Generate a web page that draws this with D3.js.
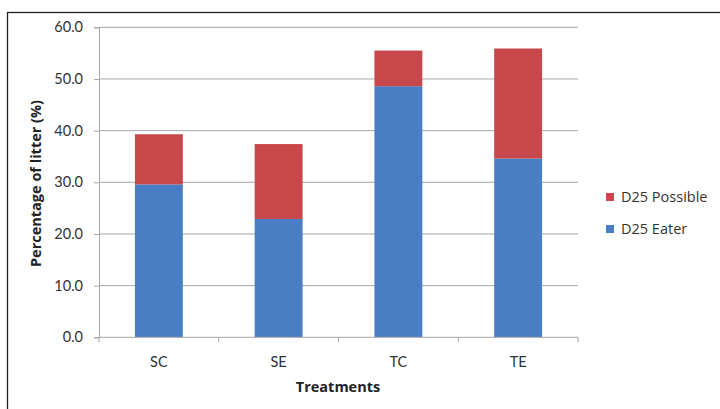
<!DOCTYPE html>
<html>
<head>
<meta charset="utf-8">
<script src="https://cdn.jsdelivr.net/npm/d3@7"></script>
<style>
  html, body { margin: 0; padding: 0; background: #fff; }
  svg { display: block; font-family: "Open Sans", Lato, "Liberation Sans", sans-serif; }
</style>
</head>
<body>
<svg id="chart" width="720" height="409"></svg>
<script>
// Treatments and litter percentages by series
const categories = ["SC", "SE", "TC", "TE"];
const eaterValues = [29.6, 22.9, 48.6, 34.6];
const possibleValues = [9.7, 14.5, 6.9, 21.3];
const seriesNames = ["D25 Eater", "D25 Possible"];
const yTicks = [0, 10, 20, 30, 40, 50, 60];

const colors = { "D25 Eater": "#4a7ec4", "D25 Possible": "#c8474a" };
const textColor = "#333";

const svg = d3.select("#chart");

// outer chart frame
svg.append("rect")
  .attr("x", 7.5).attr("y", 12.5)
  .attr("width", 740).attr("height", 420)
  .attr("fill", "none").attr("stroke", "#222").attr("stroke-width", 1.3);

const plotLeft = 99, plotRight = 578, plotTop = 27.3, plotBottom = 337.3;

const x = d3.scaleBand().domain(categories).range([plotLeft, plotRight])
  .paddingInner(0.6).paddingOuter(0.3);
const y = d3.scaleLinear().domain([0, 60]).range([plotBottom, plotTop]);

// gridlines
svg.append("g").selectAll("line").data(yTicks.slice(1)).join("line")
  .attr("x1", plotLeft).attr("x2", plotRight)
  .attr("y1", d => y(d)).attr("y2", d => y(d))
  .attr("stroke", "#a6a6a6").attr("stroke-width", 1);

// stacked bars
const table = categories.map((c, i) => ({ cat: c, "D25 Eater": eaterValues[i], "D25 Possible": possibleValues[i] }));
const stacked = d3.stack().keys(seriesNames)(table);
svg.append("g").selectAll("g").data(stacked).join("g")
  .attr("fill", d => colors[d.key])
  .selectAll("rect").data(d => d).join("rect")
  .attr("x", d => x(d.data.cat))
  .attr("width", x.bandwidth())
  .attr("y", d => y(d[1]))
  .attr("height", d => y(d[0]) - y(d[1]));

// y axis
const yAxis = d3.axisLeft(y).tickValues(yTicks).tickFormat(d3.format(".1f")).tickSize(5).tickPadding(11);
const gy = svg.append("g").attr("transform", `translate(${plotLeft},0)`).call(yAxis);
gy.select(".domain").attr("stroke", "#a6a6a6");
gy.selectAll(".tick line").attr("stroke", "#a6a6a6");
gy.selectAll("text").attr("font-size", 14.5).attr("fill", textColor)
  .attr("font-family", "Lato, sans-serif");

// x axis with boundary ticks between categories
const gx = svg.append("g").attr("transform", `translate(0,${plotBottom})`);
gx.append("line").attr("x1", plotLeft).attr("x2", plotRight).attr("stroke", "#a6a6a6");
const bounds = d3.range(categories.length + 1).map(i => plotLeft + i * x.step());
gx.selectAll("line.tk").data(bounds).join("line").attr("class", "tk")
  .attr("x1", d => d).attr("x2", d => d).attr("y1", 0).attr("y2", 5)
  .attr("stroke", "#a6a6a6");
gx.selectAll("text").data(categories).join("text")
  .attr("x", d => x(d) + x.bandwidth() / 2).attr("y", 30)
  .attr("text-anchor", "middle").attr("font-size", 14.5).attr("fill", textColor)
  .attr("font-family", "Lato, sans-serif")
  .text(d => d);

// axis titles
svg.append("text").attr("x", 338).attr("y", 392)
  .attr("text-anchor", "middle").attr("font-size", 14.5).attr("font-weight", "bold").attr("fill", "#222")
  .text("Treatments");
svg.append("text").attr("transform", "translate(41,183.5) rotate(-90)")
  .attr("text-anchor", "middle").attr("font-size", 14.5).attr("font-weight", "bold").attr("fill", "#222")
  .text("Percentage of litter (%)");

// legend
const legendItems = ["D25 Possible", "D25 Eater"];
const lg = svg.append("g").selectAll("g").data(legendItems).join("g")
  .attr("transform", (d, i) => `translate(606,${197 + i * 32})`);
lg.append("rect").attr("x", 0).attr("y", -4).attr("width", 8).attr("height", 8)
  .attr("fill", d => colors[d]);
lg.append("text").attr("x", 15).attr("y", 0).attr("dy", "0.35em")
  .attr("font-size", 14.5).attr("fill", textColor).text(d => d);
</script>
</body>
</html>
